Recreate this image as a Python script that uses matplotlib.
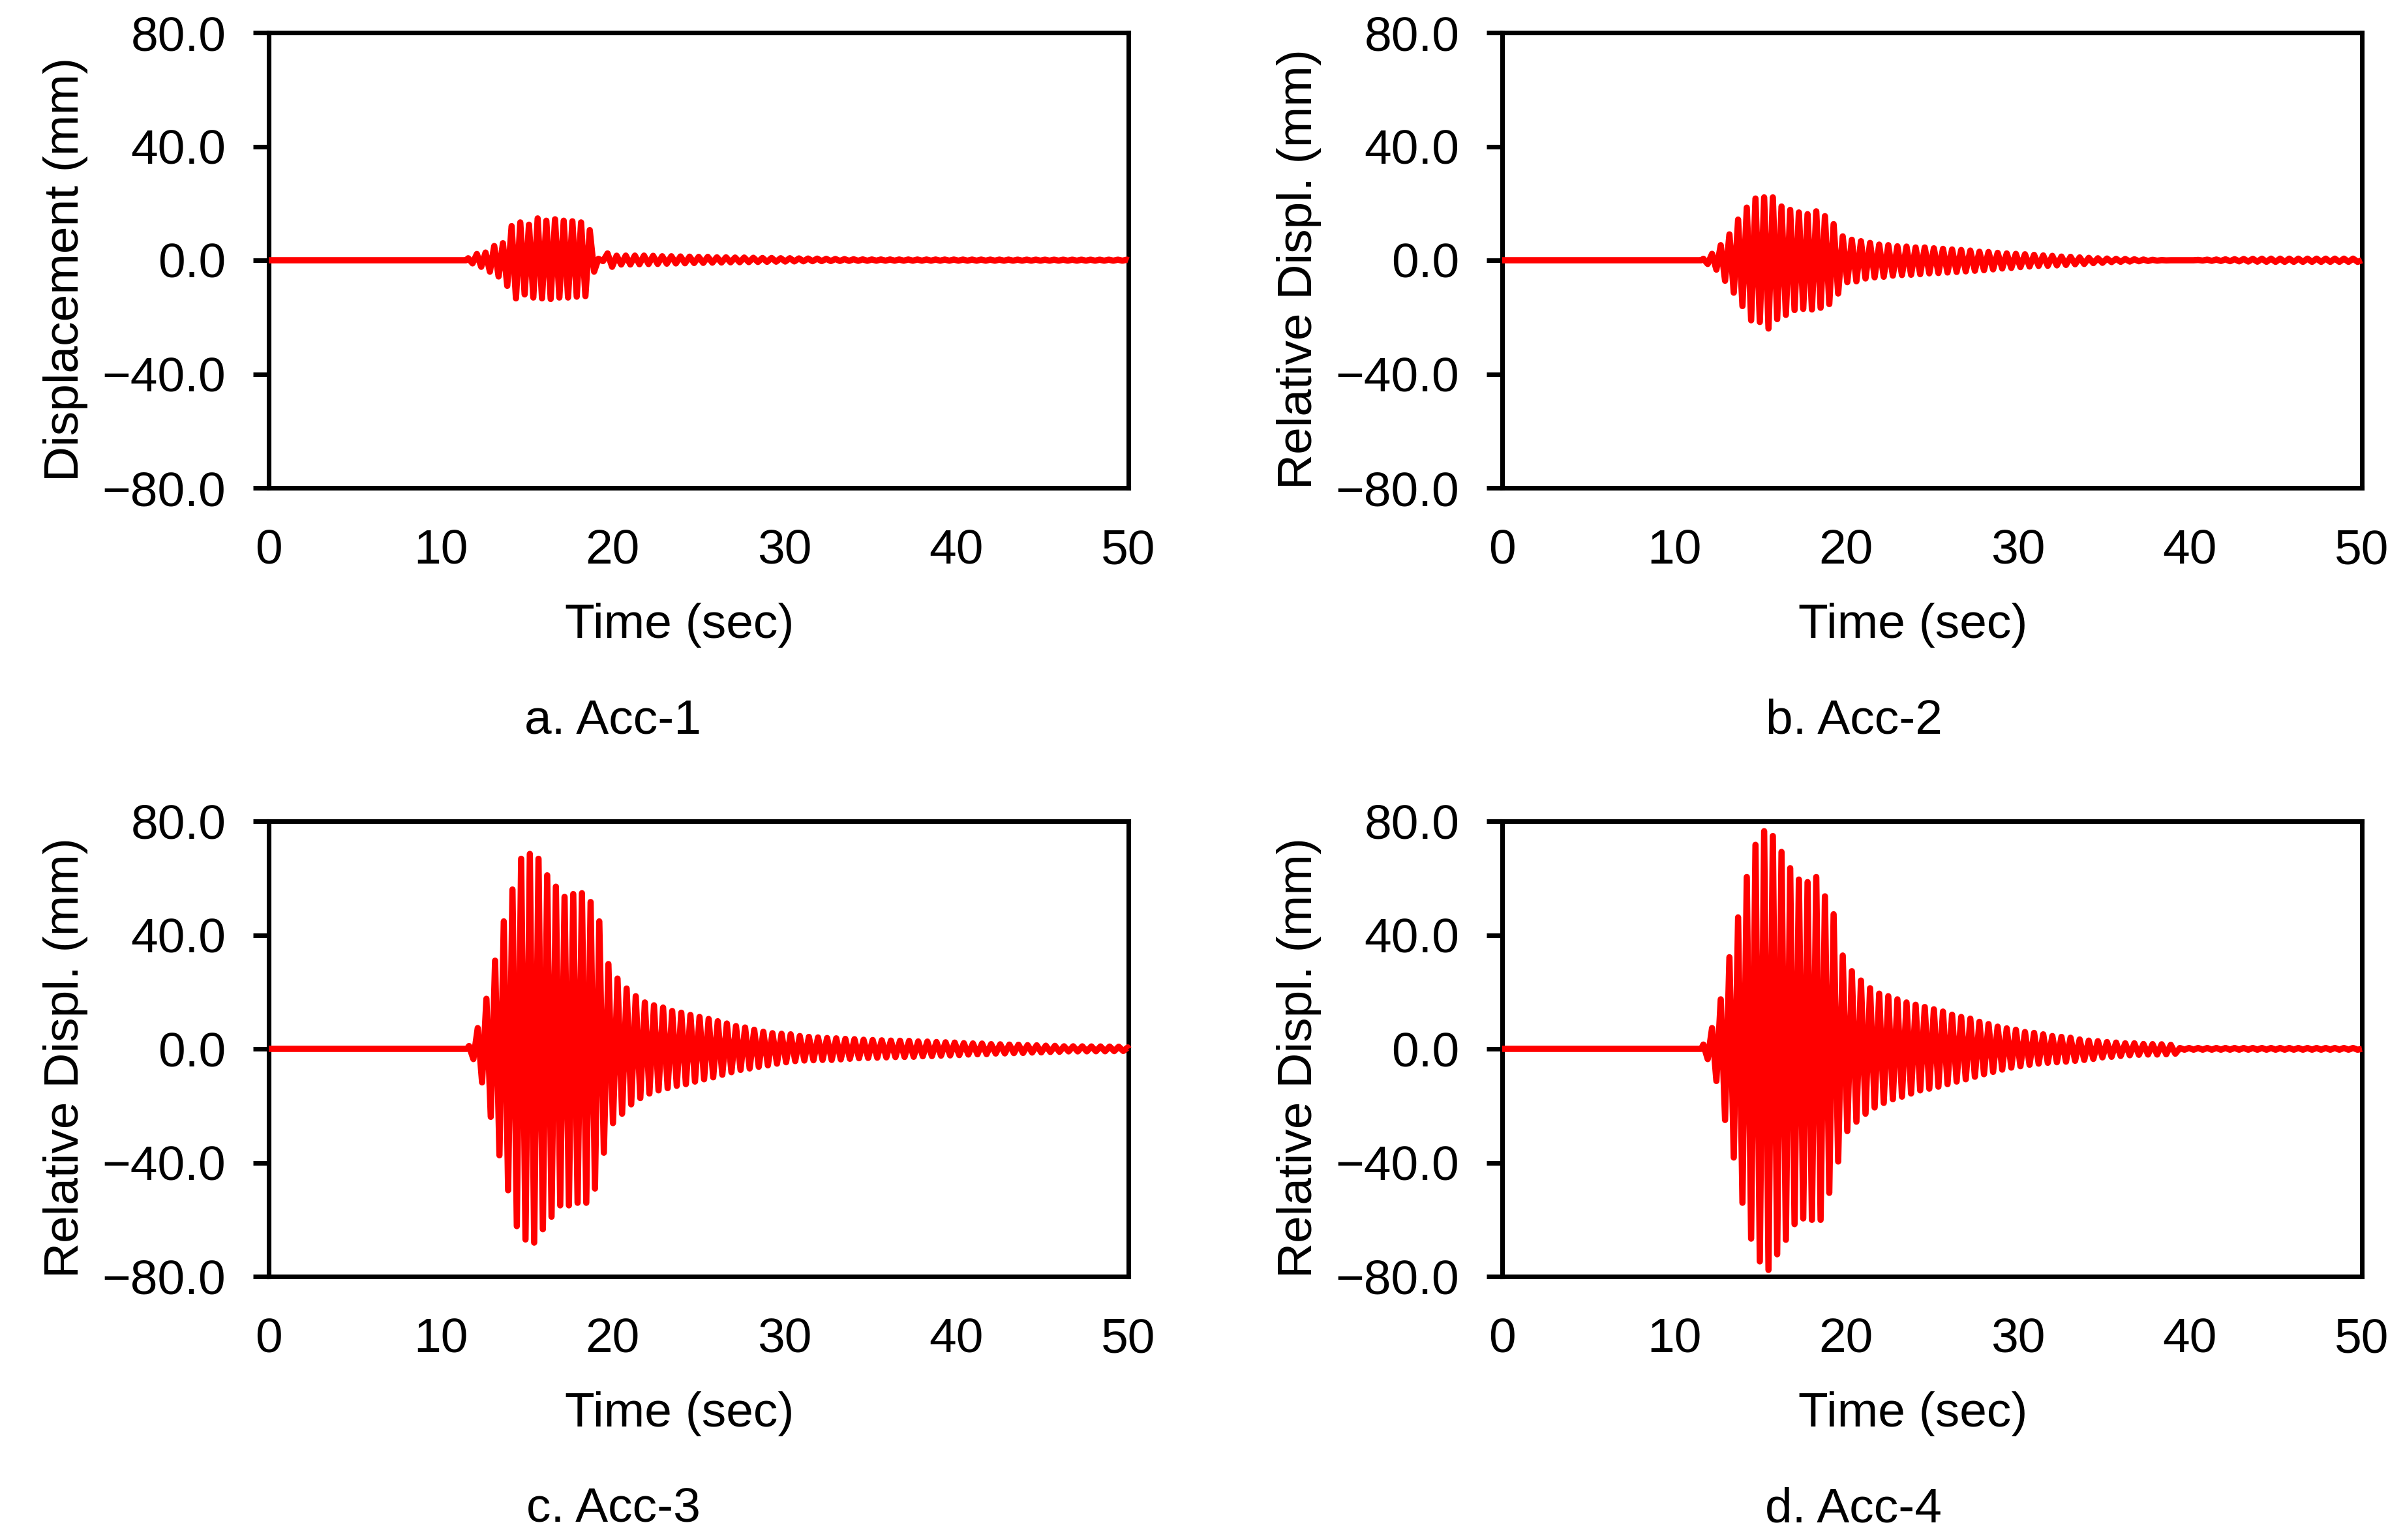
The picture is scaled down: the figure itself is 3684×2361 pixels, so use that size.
import numpy as np
import matplotlib
matplotlib.use('Agg')
import matplotlib.pyplot as plt
from matplotlib.ticker import FuncFormatter

plt.rcParams['font.family'] = ['Liberation Sans', 'DejaVu Sans']
plt.rcParams['font.size'] = 18

captions = ['a. Acc-1', 'b. Acc-2', 'c. Acc-3', 'd. Acc-4']
ylabels = ['Displacement (mm)', 'Relative Displ. (mm)',
           'Relative Displ. (mm)', 'Relative Displ. (mm)']
x_ticks = [0, 10, 20, 30, 40, 50]
y_ticks = [-80, -40, 0, 40, 80]

# time of first peak (s) and oscillation periods
onset = [11.6, 11.7, 11.65, 11.7]
period_strong = 0.505
period_free = 0.53
n_strong = 15

# peak displacement of each cycle (mm): positive peak and size of negative peak
acc1_upper = [0.7, 2.2, 2.7, 5.0, 6.0, 12.0, 13.3, 12.5, 14.7, 13.9, 14.4, 13.9, 13.7, 13.3, 10.6,
              0.5, 2.4, 1.6, 1.64, 1.64, 1.64, 1.56, 1.41, 1.41, 1.33, 1.26, 1.19, 1.19, 1.03, 1.03,
              0.95, 0.95, 0.87, 0.8, 0.8, 0.72, 0.72, 0.65, 0.6, 0.57, 0.5, 0.45, 0.4, 0.35, 0.3,
              0.27, 0.27, 0.27, 0.26, 0.26, 0.25, 0.25, 0.25, 0.24, 0.24, 0.23, 0.23, 0.23, 0.22,
              0.22, 0.22, 0.21, 0.21, 0.21, 0.2, 0.2, 0.2, 0.2, 0.2, 0.2, 0.2, 0.2, 0.2, 0.2]
acc1_lower = [1.1, 2.3, 4.0, 5.7, 9.0, 13.4, 12.0, 13.1, 13.4, 13.6, 13.1, 13.1, 12.8, 12.6, 4.0,
              0.3, 2.3, 1.5, 1.49, 1.4, 1.34, 1.3, 1.2, 1.11, 1.05, 0.96, 0.92, 0.85, 0.8, 0.73,
              0.7, 0.65, 0.6, 0.55, 0.5, 0.45, 0.4, 0.36, 0.32, 0.3, 0.28, 0.25, 0.22, 0.2, 0.18,
              0.15, 0.15, 0.15, 0.15, 0.15, 0.15, 0.15, 0.15, 0.15, 0.15, 0.15, 0.15, 0.15, 0.15,
              0.15, 0.15, 0.15, 0.15, 0.15, 0.15, 0.15, 0.15, 0.15, 0.15, 0.15, 0.15, 0.15, 0.15, 0.15]

acc2_upper = [0.5, 2.25, 5.3, 9.1, 14.3, 18.5, 21.7, 22.1, 22.1, 18.9, 17.7, 16.8, 16.2, 17.2, 15.5,
              12.7, 8.4, 7.2, 6.7, 6.1, 5.5, 5.3, 4.9, 4.8, 4.5, 4.5, 4.2, 4.0, 3.8, 3.6,
              3.4, 3.0, 2.9, 2.6, 2.4, 2.25, 2.1, 1.9, 1.7, 1.55, 1.3, 1.2, 1.0, 0.85, 0.7,
              0.6, 0.5, 0.45, 0.35, 0.25, 0.15, 0.05, 0.0, 0.0, 0.0, 0.1, 0.2, 0.25, 0.33,
              0.38, 0.45, 0.5, 0.55, 0.57, 0.57, 0.57, 0.57, 0.57, 0.57, 0.57, 0.57, 0.57, 0.57, 0.55]
acc2_lower = [1.3, 3.3, 7.2, 11.4, 16.1, 21.1, 21.7, 24.0, 20.7, 19.2, 17.5, 17.1, 17.3, 16.7, 15.4,
              11.7, 7.7, 7.4, 6.4, 6.0, 5.8, 5.4, 5.2, 5.1, 4.9, 4.6, 4.5, 4.3, 4.1, 3.9,
              3.7, 3.5, 3.2, 2.9, 2.7, 2.4, 2.2, 2.0, 1.95, 1.8, 1.65, 1.4, 1.3, 1.0, 0.9,
              0.65, 0.55, 0.45, 0.35, 0.25, 0.15, 0.05, 0.0, 0.0, 0.0, 0.1, 0.2, 0.25, 0.33,
              0.38, 0.45, 0.5, 0.55, 0.57, 0.57, 0.57, 0.57, 0.57, 0.57, 0.57, 0.57, 0.57, 0.57, 0.55]

acc3_upper = [1.0, 7.3, 17.6, 31.0, 44.8, 56.0, 66.8, 68.5, 66.8, 61.0, 57.0, 53.4, 54.4, 54.7, 51.6,
              44.8, 29.8, 24.7, 21.2, 18.5, 16.3, 15.3, 14.5, 13.3, 12.7, 11.9, 11.2, 10.5, 9.7, 8.9,
              8.0, 7.5, 6.7, 6.0, 5.5, 5.3, 5.1, 4.5, 4.2, 4.0, 3.8, 3.7, 3.5, 3.4, 3.2,
              3.1, 3.0, 2.9, 2.85, 2.8, 2.6, 2.55, 2.4, 2.3, 2.2, 2.0, 1.9, 1.85, 1.65,
              1.6, 1.5, 1.45, 1.3, 1.25, 1.1, 1.05, 0.9, 0.9, 0.88, 0.85, 0.85, 0.8, 0.75, 0.5]
acc3_lower = [3.6, 11.8, 23.9, 37.4, 49.7, 62.3, 67.0, 68.1, 63.4, 59.0, 55.0, 55.0, 54.1, 54.1, 49.1,
              36.5, 26.1, 22.8, 19.5, 17.3, 15.7, 14.6, 13.8, 13.0, 12.4, 11.5, 10.7, 10.0, 9.1, 8.2,
              7.4, 6.9, 6.3, 5.8, 5.2, 4.7, 4.3, 4.1, 4.0, 3.9, 3.9, 3.7, 3.5, 3.3, 3.2,
              3.1, 3.0, 2.9, 2.85, 2.8, 2.6, 2.55, 2.4, 2.3, 2.2, 2.0, 1.9, 1.85, 1.65,
              1.6, 1.5, 1.45, 1.3, 1.25, 1.1, 1.05, 0.9, 0.9, 0.88, 0.85, 0.85, 0.8, 0.75, 0.5]

acc4_upper = [1.5, 7.3, 17.4, 32.2, 46.2, 60.4, 71.7, 76.5, 74.8, 69.2, 63.5, 59.5, 58.6, 60.4, 53.6,
              47.3, 32.8, 27.3, 24.0, 21.3, 19.4, 18.5, 17.4, 16.3, 15.5, 14.7, 13.9, 13.1, 12.0, 11.2,
              10.6, 9.5, 8.7, 7.8, 7.2, 6.7, 5.9, 5.6, 5.1, 4.5, 4.2, 3.9, 3.3, 2.9, 2.7,
              2.4, 2.2, 1.95, 1.95, 1.7, 1.65, 1.6, 1.4, 0.3, 0.3, 0.3, 0.3, 0.3, 0.3,
              0.3, 0.3, 0.3, 0.3, 0.3, 0.3, 0.3, 0.3, 0.3, 0.3, 0.3, 0.3, 0.3, 0.3, 0.3]
acc4_lower = [3.6, 11.3, 25.0, 38.2, 54.1, 66.7, 74.7, 77.7, 72.2, 67.1, 61.6, 59.6, 60.1, 60.1, 50.6,
              39.6, 28.9, 25.6, 22.8, 20.6, 19.0, 17.7, 16.8, 15.7, 14.6, 14.0, 13.3, 12.4, 11.5, 10.7,
              9.8, 8.9, 8.1, 7.3, 6.6, 6.1, 5.6, 5.2, 4.9, 4.7, 4.5, 4.2, 3.9, 3.55, 3.0,
              2.8, 2.5, 2.25, 2.1, 2.0, 2.0, 1.9, 1.7, 0.3, 0.3, 0.3, 0.3, 0.3, 0.3,
              0.3, 0.3, 0.3, 0.3, 0.3, 0.3, 0.3, 0.3, 0.3, 0.3, 0.3, 0.3, 0.3, 0.3, 0.3]

uppers = [acc1_upper, acc2_upper, acc3_upper, acc4_upper]
lowers = [acc1_lower, acc2_lower, acc3_lower, acc4_lower]


def trace(t0, upper, lower):
    # join the read peaks: positive peak, then negative peak half a period later
    i = np.arange(len(upper))
    per = np.where(i < n_strong, period_strong, period_free)
    tu = np.where(i < n_strong, t0 + period_strong * i,
                  t0 + period_strong * n_strong + period_free * (i - n_strong))
    tl = tu + per / 2
    t = np.column_stack([tu, tl]).ravel()
    y = np.column_stack([np.asarray(upper), -np.asarray(lower)]).ravel()
    keep = t < 50
    t = np.concatenate([[0.0, t0 - period_strong / 4], t[keep], [50.0]])
    y = np.concatenate([[0.0, 0.0], y[keep], [0.0]])
    return t, y


def one_decimal(v, pos):
    return f'{v:.1f}'.replace('-', '\u2212')


W, H = 3684, 2361
fig = plt.figure(figsize=(W / 300, H / 300), dpi=300)

lefts = [412, 2303, 412, 2303]
bottoms = [748, 748, 1957, 1957]
cap_x = [940, 2842, 940, 2842]
cap_base = [1124, 1124, 2333, 2333]

for k in range(4):
    ax = fig.add_axes([lefts[k] / W, 1 - bottoms[k] / H, 1318 / W, 698 / H])
    t, y = trace(onset[k], uppers[k], lowers[k])
    ax.plot(t, y, color='#ff0000', lw=2.3, solid_joinstyle='round',
            solid_capstyle='butt', clip_on=False, zorder=3)
    ax.set_xlim(0, 50)
    ax.set_ylim(-80, 80)
    ax.set_xticks(x_ticks)
    ax.set_yticks(y_ticks)
    ax.yaxis.set_major_formatter(FuncFormatter(one_decimal))
    for s in ax.spines.values():
        s.set_linewidth(1.7)
    ax.tick_params(axis='y', direction='out', length=5.8, width=1.7, pad=10, labelsize=18)
    ax.tick_params(axis='x', length=0, pad=15, labelsize=18)
    ax.set_ylabel(ylabels[k], fontsize=18)
    ax.yaxis.set_label_coords(-0.21, 0.48)
    ax.set_xlabel('Time (sec)', fontsize=18)
    ax.xaxis.set_label_coords(0.478, -0.252)
    fig.text(cap_x[k] / W, 1 - cap_base[k] / H, captions[k], ha='center',
             va='baseline', fontsize=18)

fig.savefig('out.png', dpi=300)
